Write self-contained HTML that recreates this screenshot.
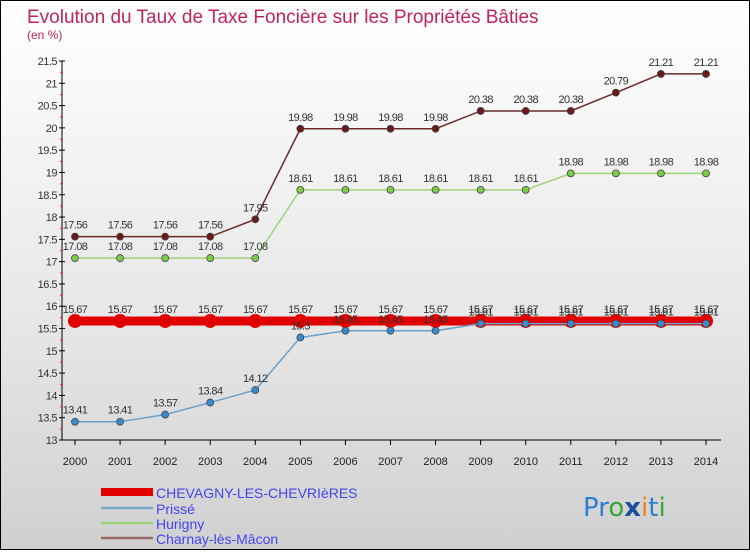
<!DOCTYPE html>
<html><head><meta charset="utf-8"><style>
html,body{margin:0;padding:0}
body{width:750px;height:550px;overflow:hidden;font-family:"Liberation Sans","DejaVu Sans",sans-serif}
#wrap{position:relative;width:748px;height:548px;border:1px solid #000;background:linear-gradient(#ffffff,#e6e6e6 60%,#d0d0d0)}
</style></head><body>
<div id="wrap">
<svg id="chart" width="748" height="548" xmlns="http://www.w3.org/2000/svg">
<text x="26" y="22" font-size="19" fill="#c0245c">Evolution du Taux de Taxe Foncière sur les Propriétés Bâties</text>
<text x="26" y="38" font-size="12" fill="#c0245c">(en %)</text>
<g id="axes"></g><g id="series"></g>
<g>
<rect x="100" y="487" width="52" height="8" fill="#e00000"/>
<text x="155" y="497" font-size="14" fill="#4444ee">CHEVAGNY-LES-CHEVRIèRES</text>
<line x1="100" y1="507" x2="152" y2="507" stroke="#7aa7c8" stroke-width="2.5"/>
<text x="155" y="513" font-size="14" fill="#4444ee">Prissé</text>
<line x1="100" y1="522" x2="152" y2="522" stroke="#9ed37a" stroke-width="2.5"/>
<text x="155" y="528" font-size="14" fill="#4444ee">Hurigny</text>
<line x1="100" y1="537" x2="152" y2="537" stroke="#9a6b6b" stroke-width="2.5"/>
<text x="155" y="543" font-size="14" fill="#4444ee">Charnay-lès-Mâcon</text>
</g>
<text x="582" y="515" font-size="26" font-family="DejaVu Sans,sans-serif"><tspan fill="#2a7fd0">Pr</tspan><tspan fill="#3aa63a">o</tspan><tspan fill="#1a4fa0" font-weight="bold">x</tspan><tspan fill="#f08020">i</tspan><tspan fill="#2a7fd0">t</tspan><tspan fill="#3aa63a">i</tspan></text>
</svg></div>
<script>
const years=[2000,2001,2002,2003,2004,2005,2006,2007,2008,2009,2010,2011,2012,2013,2014];
const yTicks=[13,13.5,14,14.5,15,15.5,16,16.5,17,17.5,18,18.5,19,19.5,20,20.5,21,21.5];
const chevagny=[15.67,15.67,15.67,15.67,15.67,15.67,15.67,15.67,15.67,15.67,15.67,15.67,15.67,15.67,15.67];
const prisse=[13.41,13.41,13.57,13.84,14.12,15.3,15.45,15.45,15.45,15.61,15.61,15.61,15.61,15.61,15.61];
const hurigny=[17.08,17.08,17.08,17.08,17.08,18.61,18.61,18.61,18.61,18.61,18.61,18.98,18.98,18.98,18.98];
const charnay=[17.56,17.56,17.56,17.56,17.95,19.98,19.98,19.98,19.98,20.38,20.38,20.38,20.79,21.21,21.21];
const NS="http://www.w3.org/2000/svg";
const xS=i=>74+i*(631/(years.length-1));
const yS=v=>439-(v-13)*(379/8.5);
function mk(tag,attrs,parent){const e=document.createElementNS(NS,tag);for(const k in attrs)e.setAttribute(k,attrs[k]);parent.appendChild(e);return e;}
const ax=document.getElementById('axes');
let a=mk('line',{x1:61,y1:60,x2:61,y2:439,stroke:'#000'},ax);


a=mk('line',{x1:61,y1:439,x2:720,y2:439,stroke:'#000'},ax);


yTicks.forEach(v=>{const y=yS(v);
 mk('line',{x1:58,y1:y,x2:64,y2:y,stroke:'#000'},ax);
 if(v<21.5)mk('line',{x1:59,y1:y-11,x2:62,y2:y-11,stroke:'#e03030'},ax);
 const t=mk('text',{x:56,y:y+4,'font-size':11,'text-anchor':'end',fill:'#333','letter-spacing':'-0.5'},ax);t.textContent=String(v);
 
 });
years.forEach((yr,i)=>{const x=xS(i);
 mk('line',{x1:x,y1:439,x2:x,y2:444,stroke:'#000'},ax);
 const t=mk('text',{x:x,y:464,'font-size':11,'text-anchor':'middle',fill:'#222'},ax);t.textContent=yr;
 
 });
const sg=document.getElementById('series');
function series(vals,color,fill,w,r,name,labels){
 const g=mk('g',{},sg);
 
 
 mk('polyline',{points:vals.map((v,i)=>xS(i)+','+yS(v)).join(' '),fill:'none',stroke:color,'stroke-width':w},g);
 vals.forEach((v,i)=>{const c=mk('circle',{cx:xS(i),cy:yS(v),r:r,fill:fill,stroke:'#444','stroke-width':r>5?0:0.8},g);
  
  
  if(labels){const t=mk('text',{x:xS(i),y:yS(v)-8,'font-size':11,'text-anchor':'middle',fill:'#333','letter-spacing':'-0.6'},g);t.textContent=String(v);
  
  }});
}
series(charnay,'#6b2a2a','#6b1a1a',1.5,3.5,'charnay',true);
series(hurigny,'#9ed37a','#7ccc4a',1.5,3.5,'hurigny',true);
series(chevagny,'#e00000','#e00000',9,7,'chevagny',true);
series(prisse,'#6aa0cc','#3a8ad0',1.5,3.5,'prisse',true);
</script>
</body></html>
